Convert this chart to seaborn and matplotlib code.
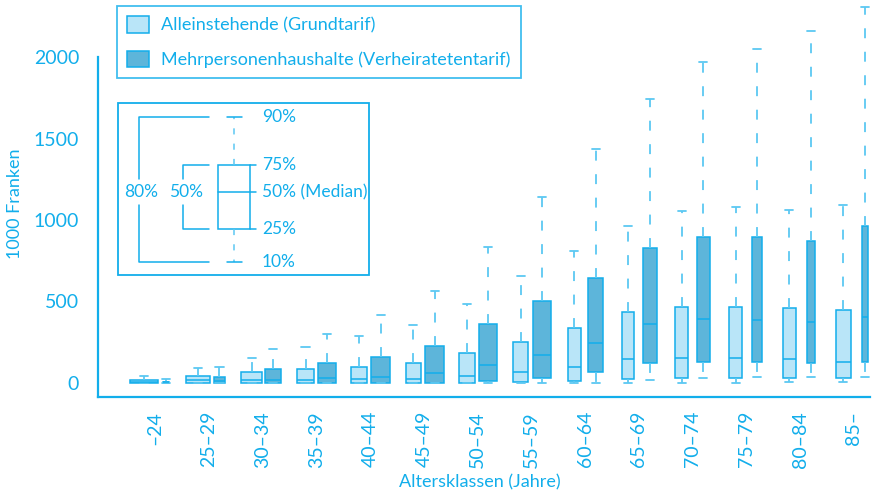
import numpy as np
import pandas as pd
import matplotlib
matplotlib.use("Agg")
import matplotlib.pyplot as plt
import seaborn as sns
from matplotlib.patches import Patch, Rectangle

# ---------------- data (1000 Franken) ----------------
categories = ["–24", "25–29", "30–34", "35–39", "40–44", "45–49", "50–54",
              "55–59", "60–64", "65–69", "70–74", "75–79", "80–84", "85–"]

# Alleinstehende (Grundtarif): percentiles 10/25/50/75/90
single_p10 = [0, 0, 0, 0, 0, 0, 0, 0, 0, 0, 0, 0, 4, 4]
single_p25 = [0, 0, 0, 0, 0, 0, 0, 5, 12, 25, 31, 31, 29, 29]
single_p50 = [8, 18, 16, 18, 22, 22, 42, 67, 98, 147, 155, 151, 147, 127]
single_p75 = [18, 43, 65, 84, 100, 125, 183, 252, 338, 438, 465, 465, 462, 448]
single_p90 = [40, 94, 153, 219, 288, 356, 485, 656, 810, 965, 1056, 1077, 1061, 1092]
single_rel_width = [0.52, 0.43, 0.39, 0.33, 0.30, 0.28, 0.30, 0.28, 0.24, 0.22, 0.24, 0.24, 0.24, 0.28]

# Mehrpersonenhaushalte (Verheiratetentarif)
multi_p10 = [0, 0, 0, 0, 0, 0, 0, 0, 0, 18, 31, 37, 35, 35]
multi_p25 = [0, 0, 0, 0, 0, 0, 12, 31, 67, 123, 131, 127, 123, 127]
multi_p50 = [3, 10, 16, 29, 35, 59, 110, 172, 245, 362, 390, 387, 372, 406]
multi_p75 = [8, 35, 86, 121, 157, 227, 362, 503, 644, 827, 898, 893, 873, 962]
multi_p90 = [25, 98, 206, 303, 417, 566, 834, 1141, 1436, 1742, 1972, 2049, 2158, 2307]
multi_rel_width = [0.11, 0.19, 0.30, 0.35, 0.35, 0.35, 0.33, 0.32, 0.28, 0.26, 0.24, 0.20, 0.15, 0.11]

series_names = ["Alleinstehende (Grundtarif)", "Mehrpersonenhaushalte (Verheiratetentarif)"]
yticks = [0, 500, 1000, 1500, 2000]

# ---------------- style ----------------
CYAN = "#12AEEB"
WHISK = "#5CC8F2"
LIGHT = "#B9E5F8"
DARK = "#5DB5DA"
FONT = ["Lato", "DejaVu Sans"]
DASH = (0, (5.5, 7.5))

sns.set_theme(style="white")
plt.rcParams["font.family"] = FONT
plt.rcParams["text.color"] = CYAN
plt.rcParams["axes.labelcolor"] = CYAN
plt.rcParams["xtick.color"] = CYAN
plt.rcParams["ytick.color"] = CYAN


def expand(p10, p25, p50, p75, p90):
    # 11 values whose linear-interpolated percentiles equal the given ones
    return [p10, p10, p25, p25, p50, p50, p50, p75, p75, p90, p90]


fig = plt.figure(figsize=(8.76, 4.96), dpi=100)
W, H = 876, 496
ax = fig.add_axes([98 / W, 1 - 397 / H, (870 - 98) / W, 397 / H])

series = [
    (single_p10, single_p25, single_p50, single_p75, single_p90, single_rel_width, LIGHT, -0.2),
    (multi_p10, multi_p25, multi_p50, multi_p75, multi_p90, multi_rel_width, DARK, 0.2),
]

for (p10, p25, p50, p75, p90, widths, col, off) in series:
    for i in range(len(categories)):
        vals = expand(p10[i], p25[i], p50[i], p75[i], p90[i])
        df = pd.DataFrame({"pos": [i + off] * len(vals), "val": vals})
        sns.boxplot(data=df, x="pos", y="val", native_scale=True, ax=ax,
                    width=widths[i], whis=(10, 90), color=col, saturation=1,
                    linecolor=CYAN, linewidth=1.1, showfliers=False,
                    capwidths=0.15,
                    whiskerprops={"linestyle": DASH, "color": WHISK, "linewidth": 1.3},
                    capprops={"color": WHISK, "linewidth": 1.3})

ax.set_xlim(-1.06, 13.3)
ax.set_ylim(-86, 2350)

# axes decoration
for s in ["top", "right"]:
    ax.spines[s].set_visible(False)
for s in ["left", "bottom"]:
    ax.spines[s].set_color(CYAN)
    ax.spines[s].set_linewidth(1.6)
ax.spines["left"].set_bounds(-86, 2000)

ax.set_yticks(yticks)
ax.set_yticklabels([str(v) for v in yticks])
ax.tick_params(axis="y", length=8, width=1.2, pad=5.5, labelsize=14, colors=CYAN)

box_pos = [i + o for i in range(len(categories)) for o in (-0.2, 0.2)]
ax.set_xticks(box_pos)
ax.set_xticklabels([""] * len(box_pos))
ax.set_xticks(range(len(categories)), minor=True)
ax.set_xticklabels(categories, minor=True, rotation=90, va="top", ha="center")
ax.tick_params(axis="x", which="major", length=5, width=1.2, colors=CYAN)
ax.tick_params(axis="x", which="minor", length=0, pad=10, labelsize=14, colors=CYAN)

ax.set_xlabel("Altersklassen (Jahre)", fontsize=13)
ax.set_ylabel("1000 Franken", fontsize=13)
ax.xaxis.set_label_coords((480 - 98) / (870 - 98), -(474 - 397) / 397)
ax.yaxis.set_label_coords(-(98 - 23) / (870 - 98), (397 - 204) / 397)

# legend
handles = [Patch(facecolor=LIGHT, edgecolor=CYAN, linewidth=1.1),
           Patch(facecolor=DARK, edgecolor=CYAN, linewidth=1.1)]
leg = fig.legend(handles, series_names, loc="upper left",
                 bbox_to_anchor=(117 / W, 1 - 6 / H), fontsize=13,
                 frameon=True, fancybox=False, borderpad=0.55,
                 handlelength=1.2, handleheight=1.05, handletextpad=0.7,
                 labelspacing=0.95, borderaxespad=0)
leg.get_frame().set_edgecolor(CYAN)
leg.get_frame().set_linewidth(1.3)
for t in leg.get_texts():
    t.set_color(CYAN)

# explanation key (overlay in pixel coordinates)
ov = fig.add_axes([0, 0, 1, 1], facecolor="none")
ov.set_xlim(0, W)
ov.set_ylim(H, 0)
ov.axis("off")
lw = 1.1
ov.add_patch(Rectangle((118, 103), 369 - 118, 275 - 103, fill=False, ec=CYAN, lw=1.3))
ov.add_patch(Rectangle((218, 165), 32, 64, fill=False, ec=CYAN, lw=lw))
ov.plot([218, 256], [192, 192], color=CYAN, lw=lw)
ov.plot([250, 256], [165, 165], color=CYAN, lw=lw)
ov.plot([250, 256], [229, 229], color=CYAN, lw=lw)
ov.plot([234, 234], [165, 117], color=WHISK, lw=lw, ls=(0, (4, 6)))
ov.plot([234, 234], [229, 262], color=WHISK, lw=lw, ls=(0, (4, 6)))
ov.plot([227, 242], [117, 117], color=CYAN, lw=lw)
ov.plot([227, 242], [262, 262], color=CYAN, lw=lw)
# brackets
ov.plot([209, 139, 139], [117, 117, 179], color=CYAN, lw=lw)
ov.plot([209, 139, 139], [262, 262, 205], color=CYAN, lw=lw)
ov.plot([209, 183, 183], [165, 165, 179], color=CYAN, lw=lw)
ov.plot([209, 183, 183], [229, 229, 205], color=CYAN, lw=lw)
kfs = 12.5
ov.text(141, 192, "80%", ha="center", va="center", fontsize=kfs, color=CYAN)
ov.text(186, 192, "50%", ha="center", va="center", fontsize=kfs, color=CYAN)
for yy, lab in [(117, "90%"), (165, "75%"), (192, "50% (Median)"), (229, "25%"), (262, "10%")]:
    ov.text(262, yy, lab, ha="left", va="center", fontsize=kfs, color=CYAN)

fig.savefig("out.png", dpi=100)
